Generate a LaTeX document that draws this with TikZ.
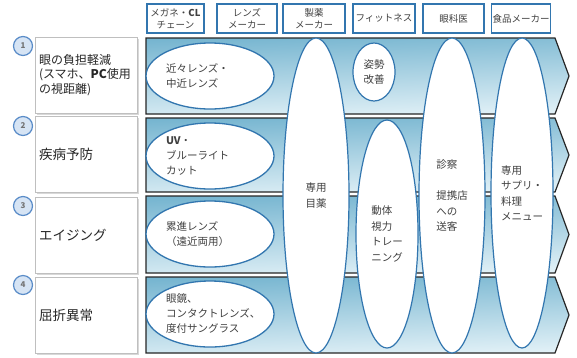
\documentclass[tikz,border=0pt]{standalone}
\usepackage{fontspec}
\setmainfont{Noto Sans CJK JP}
\usepackage{xcolor}
\usepackage{tikz}
\usetikzlibrary{shapes.geometric,shadows}
\definecolor{edgeblue}{RGB}{50,118,175}
\definecolor{bandtop}{RGB}{118,181,208}
\definecolor{bandbot}{RGB}{226,241,247}
\definecolor{numblue}{RGB}{90,140,200}
\definecolor{numfill}{RGB}{214,228,244}
\definecolor{txtgray}{RGB}{64,64,64}
\newcommand{\band}[2]{%
	\draw[band] (146,#1) -- (555,#1) -- (569,{(#1+#2)/2}) -- (555,#2) -- (146,#2) -- cycle;
}
\newcommand{\rownum}[3]{%
	\node[numball] (#1) at (23,#2+9) {#3};
}

\begin{document}
\begin{tikzpicture}[x=1pt,y=-1pt,
	band/.style={draw=black!85,line width=1.2pt,top color=bandtop,bottom color=bandbot,shading angle=2},
	hdrbox/.style={draw=edgeblue,line width=1.2pt,fill=white,minimum height=29pt,inner sep=1pt,align=center,font=\fontsize{9.5}{12}\selectfont,text=txtgray},
	lblbox/.style={draw=black!25,fill=white,minimum width=102pt,minimum height=76pt,text width=94pt,inner xsep=4pt,align=left,text=black!85,drop shadow={shadow xshift=1.5pt,shadow yshift=-1.5pt,fill=black!30}},
	lensell/.style={ellipse,draw=edgeblue,line width=1.3pt,fill=white,minimum width=128pt,minimum height=66pt,inner sep=0pt,text width=88pt,align=left,font=\fontsize{10.5}{15}\selectfont,text=txtgray},
	tallell/.style={ellipse,draw=edgeblue,line width=1.2pt,fill=white,inner sep=0pt,align=left,font=\fontsize{10.5}{15.5}\selectfont,text=txtgray},
	numball/.style={circle,draw=numblue,line width=1.2pt,fill=numfill,minimum size=19pt,inner sep=0pt,font=\fontsize{8}{8}\selectfont\bfseries,text=black!55}]
	\useasboundingbox (0,0) rectangle (577,357);
	% bands
	\band{38}{114}
	\band{118}{192}
	\band{196}{273}
	\band{277}{353}
	% first column
	\node[lensell] (nearlens) at (210,76) {近々レンズ・\\中近レンズ};
	\node[lensell] (uvcut) at (210,156) {\textbf{UV}・\\ブルーライト\\カット};
	\node[lensell] (proglens) at (210,234) {累進レンズ\\（遠近両用）};
	\node[lensell] (glasses) at (210,314) {眼鏡、\\コンタクトレンズ、\\度付サングラス};
	% tall columns
	\node[tallell,minimum width=66pt,minimum height=315pt] (eyedrop) at (316,195.5) {専用\\目薬};
	\node[tallell,minimum width=42pt,minimum height=58pt,align=center] (posture) at (374,72) {姿勢\\改善};
	\node[tallell,minimum width=62pt,minimum height=228pt] (vision) at (387,234) {動体\\視力\\トレー\\ニング};
	\node[tallell,minimum width=66pt,minimum height=315pt] (clinic) at (452,195.5) {診察\\[15.5pt]提携店\\への\\送客};
	\node[tallell,minimum width=62pt,minimum height=310pt] (menu) at (522,193) {専用\\サプリ・\\料理\\メニュー};
	% left labels
	\node[lblbox,font=\fontsize{12}{14.5}\selectfont] (eyeload) at (86,75) {眼の負担軽減\\(スマホ、\textbf{PC}使用\\の視距離)};
	\node[lblbox,font=\fontsize{13.5}{16}\selectfont] (disease) at (86,154.5) {疾病予防};
	\node[lblbox,font=\fontsize{13.5}{16}\selectfont] (aging) at (86,235) {エイジング};
	\node[lblbox,font=\fontsize{13.5}{16}\selectfont] (refract) at (86,315) {屈折異常};
	\rownum{one}{37}{1}
	\rownum{two}{117}{2}
	\rownum{three}{197}{3}
	\rownum{four}{276}{4}
	% headers
	\node[hdrbox,minimum width=57pt] (chain) at (175.5,18.5) {メガネ・\textbf{CL}\\チェーン};
	\node[hdrbox,minimum width=60pt] (lensmaker) at (247,18.5) {レンズ\\メーカー};
	\node[hdrbox,minimum width=62pt] (pharma) at (314,18.5) {製薬\\メーカー};
	\node[hdrbox,minimum width=62pt] (fitness) at (384,18.5) {フィットネス};
	\node[hdrbox,minimum width=61pt] (ophth) at (453.5,18.5) {眼科医};
	\node[hdrbox,minimum width=58pt] (food) at (521,18.5) {食品メーカー};
\end{tikzpicture}
\end{document}
